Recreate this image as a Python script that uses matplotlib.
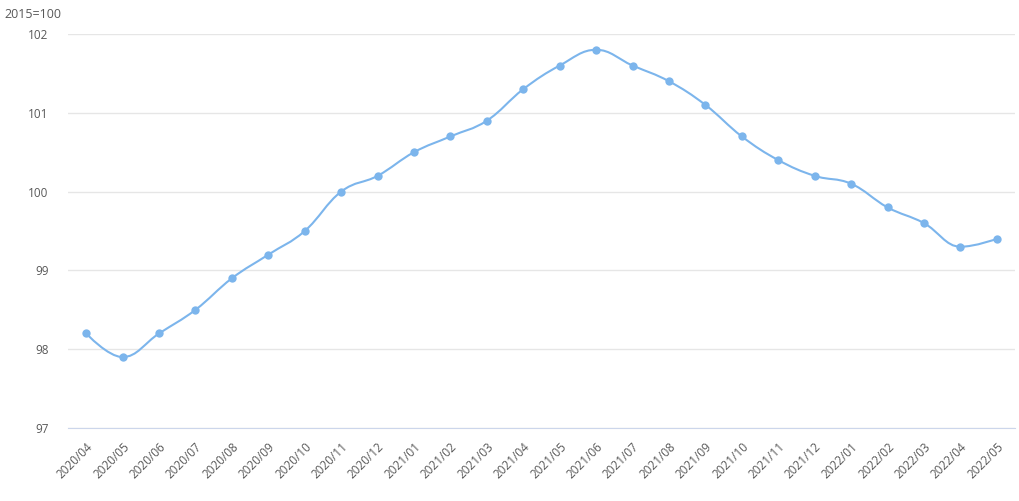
import numpy as np
import matplotlib
matplotlib.use("Agg")
import matplotlib.pyplot as plt
from matplotlib.path import Path
from matplotlib.patches import PathPatch

# Indice 2015=100, mensuel
mois = ["2020/04", "2020/05", "2020/06", "2020/07", "2020/08", "2020/09",
        "2020/10", "2020/11", "2020/12", "2021/01", "2021/02", "2021/03",
        "2021/04", "2021/05", "2021/06", "2021/07", "2021/08", "2021/09",
        "2021/10", "2021/11", "2021/12", "2022/01", "2022/02", "2022/03",
        "2022/04", "2022/05"]
valeurs = [98.2, 97.9, 98.2, 98.5, 98.9, 99.2, 99.5, 100.0, 100.2, 100.5,
           100.7, 100.9, 101.3, 101.6, 101.8, 101.6, 101.4, 101.1, 100.7,
           100.4, 100.2, 100.1, 99.8, 99.6, 99.3, 99.4]
y_ticks = [97, 98, 99, 100, 101, 102]

COULEUR = "#7cb5ec"
TEXTE = "#595959"


def spline_path(xs, ys, smoothing=1.5):
    """Chemin bezier façon spline (points de contrôle lissés)."""
    denom = smoothing + 1
    n = len(xs)
    left = [(x, y) for x, y in zip(xs, ys)]
    right = [(x, y) for x, y in zip(xs, ys)]
    for i in range(1, n - 1):
        lx, ly = xs[i - 1], ys[i - 1]
        px, py = xs[i], ys[i]
        nx, ny = xs[i + 1], ys[i + 1]
        lcx = (smoothing * px + lx) / denom
        lcy = (smoothing * py + ly) / denom
        rcx = (smoothing * px + nx) / denom
        rcy = (smoothing * py + ny) / denom
        if rcx != lcx:
            corr = ((rcy - lcy) * (rcx - px)) / (rcx - lcx) + py - rcy
            lcy += corr
            rcy += corr
        if lcy > ly and lcy > py:
            lcy = max(ly, py)
            rcy = 2 * py - lcy
        elif lcy < ly and lcy < py:
            lcy = min(ly, py)
            rcy = 2 * py - lcy
        if rcy > ny and rcy > py:
            rcy = max(ny, py)
            lcy = 2 * py - rcy
        elif rcy < ny and rcy < py:
            rcy = min(ny, py)
            lcy = 2 * py - rcy
        left[i] = (lcx, lcy)
        right[i] = (rcx, rcy)
    verts = [(xs[0], ys[0])]
    codes = [Path.MOVETO]
    for i in range(1, n):
        verts += [right[i - 1], left[i], (xs[i], ys[i])]
        codes += [Path.CURVE4] * 3
    return Path(verts, codes)


fig = plt.figure(figsize=(10.2, 5.01), dpi=100)
ax = fig.add_axes([68 / 1020, 1 - 428 / 501, (1015 - 68) / 1020, (428 - 34) / 501])

x = np.arange(len(mois))
ax.add_patch(PathPatch(spline_path(list(x), valeurs), facecolor="none",
                       edgecolor=COULEUR, lw=1.5, zorder=3))
ax.plot(x, valeurs, linestyle="none", marker="o", ms=6, mew=0,
        color=COULEUR, zorder=4)

ax.set_xlim(-0.5, len(mois) - 0.5)
ax.set_ylim(97, 102)
ax.set_yticks(y_ticks)
ax.set_yticklabels([str(v) for v in y_ticks], fontsize=8.5, color=TEXTE,
                   family="Open Sans")
ax.set_xticks(x)
ax.set_xticklabels(mois, rotation=45, ha="right", rotation_mode="anchor",
                   fontsize=8.5, color=TEXTE, family="Open Sans")
ax.tick_params(axis="x", length=0, pad=9)
ax.tick_params(axis="y", length=0, pad=14)

ax.grid(axis="y", color="#e6e6e6", lw=1)
ax.set_axisbelow(True)
for s in ["top", "right", "left"]:
    ax.spines[s].set_visible(False)
ax.spines["bottom"].set_color("#ccd6eb")
ax.spines["bottom"].set_zorder(2)

fig.text(4 / 1020, 1 - 14 / 501, "2015=100", fontsize=9, color=TEXTE,
         family="Open Sans", va="center", ha="left")

fig.savefig("out.png", dpi=100)
